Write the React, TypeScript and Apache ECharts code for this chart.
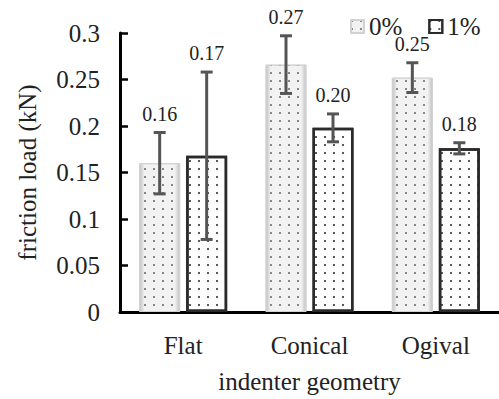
import React, { useEffect, useRef } from 'react';
import * as echarts from 'echarts';

const categories = ['Flat', 'Conical', 'Ogival'];
const seriesNames = ['0%', '1%'];
const means0 = [0.16, 0.266, 0.252];
const means1 = [0.168, 0.198, 0.176];
const err0 = [0.033, 0.031, 0.016];
const err1 = [0.09, 0.015, 0.006];
const yMin = 0;
const yMax = 0.3;
const yInterval = 0.05;
const xAxisTitle = 'indenter geometry';
const yAxisTitle = 'friction load (kN)';

const FONT = 'Liberation Serif';
const BAR_W = 41;
const GAP_PX = 6;
const TEXT_COLOR = '#222222';

function errorSeries(means: number[], errs: number[], offset: number) {
  return {
    type: 'custom',
    z: 5,
    encode: { x: 0, y: [1, 2] },
    data: means.map((m, i) => [i, m - errs[i], m + errs[i], m]),
    renderItem: (params: any, api: any) => {
      const ci = api.value(0);
      const lo = api.value(1);
      const hi = api.value(2);
      const m = api.value(3);
      const pHi = api.coord([ci, hi]);
      const pLo = api.coord([ci, lo]);
      const x = pHi[0] + offset;
      const stroke = '#555555';
      const lw = 3;
      const cap = 6;
      return {
        type: 'group',
        children: [
          { type: 'line', shape: { x1: x, y1: pHi[1], x2: x, y2: pLo[1] }, style: { stroke, lineWidth: lw } },
          { type: 'line', shape: { x1: x - cap, y1: pHi[1], x2: x + cap, y2: pHi[1] }, style: { stroke, lineWidth: lw } },
          { type: 'line', shape: { x1: x - cap, y1: pLo[1], x2: x + cap, y2: pLo[1] }, style: { stroke, lineWidth: lw } },
          {
            type: 'text',
            style: {
              text: Number(m).toFixed(2),
              x,
              y: pHi[1] - 9,
              align: 'center',
              verticalAlign: 'bottom',
              fontFamily: FONT,
              fontSize: 20,
              fill: TEXT_COLOR,
            },
          },
        ],
      };
    },
  };
}

export default function App() {
  const ref = useRef<HTMLDivElement>(null);
  useEffect(() => {
    if (!ref.current) return;
    const chart = echarts.init(ref.current, null, { renderer: 'svg' });
    const off = (BAR_W + GAP_PX) / 2;
    const option: any = {
      animation: false,
      backgroundColor: '#ffffff',
      textStyle: { fontFamily: FONT },
      legend: {
        data: seriesNames,
        left: 345,
        top: 9,
        icon: 'rect',
        itemWidth: 13,
        itemHeight: 13,
        itemGap: 26,
        textStyle: { fontFamily: FONT, fontSize: 25, color: TEXT_COLOR },
      },
      grid: { left: 120, top: 33, width: 381, height: 285.5 },
      xAxis: {
        type: 'category',
        data: categories,
        name: xAxisTitle,
        nameLocation: 'middle',
        nameGap: 57,
        nameTextStyle: { fontFamily: FONT, fontSize: 25, color: TEXT_COLOR },
        axisLine: { lineStyle: { color: '#000000', width: 3 } },
        axisTick: { show: false },
        axisLabel: { fontFamily: FONT, fontSize: 25, color: TEXT_COLOR, margin: 21 },
      },
      yAxis: {
        type: 'value',
        min: yMin,
        max: yMax,
        interval: yInterval,
        name: yAxisTitle,
        nameLocation: 'middle',
        nameGap: 80,
        nameTextStyle: { fontFamily: FONT, fontSize: 25, color: TEXT_COLOR },
        axisLine: { show: true, lineStyle: { color: '#000000', width: 3 } },
        axisTick: { show: true, inside: true, length: 8, lineStyle: { color: '#000000', width: 2.5 } },
        splitLine: { show: false },
        axisLabel: { fontFamily: FONT, fontSize: 25, color: TEXT_COLOR, margin: 20 },
      },
      series: [
        {
          name: seriesNames[0],
          type: 'bar',
          data: means0,
          barWidth: BAR_W,
          barGap: (GAP_PX / BAR_W) * 100 + '%',
          itemStyle: {
            color: new echarts.graphic.LinearGradient(0, 0, 1, 0, [
              { offset: 0, color: '#c2c2c2' },
              { offset: 0.12, color: '#f2f2f2' },
              { offset: 0.88, color: '#f2f2f2' },
              { offset: 1, color: '#c2c2c2' },
            ]),
            borderColor: '#d2d2d2',
            borderWidth: 1,
            decal: {
              symbol: 'rect',
              symbolSize: 1,
              dashArrayX: [2, 7],
              dashArrayY: [2, 6],
              color: 'rgba(110,110,110,0.8)',
            },
          },
        },
        {
          name: seriesNames[1],
          type: 'bar',
          data: means1,
          barWidth: BAR_W,
          barGap: (GAP_PX / BAR_W) * 100 + '%',
          itemStyle: {
            color: '#ffffff',
            borderColor: '#2a2a2a',
            borderWidth: 2.5,
            decal: {
              symbol: 'rect',
              symbolSize: 1,
              dashArrayX: [2, 7],
              dashArrayY: [2, 6],
              color: 'rgba(60,60,60,0.85)',
            },
          },
        },
        errorSeries(means0, err0, -off),
        errorSeries(means1, err1, off),
      ],
    };
    chart.setOption(option);
    return () => chart.dispose();
  }, []);
  return (
    <div
      ref={ref}
      style={{ position: 'absolute', left: 0, top: 0, width: 499, height: 399, background: '#ffffff' }}
    />
  );
}
